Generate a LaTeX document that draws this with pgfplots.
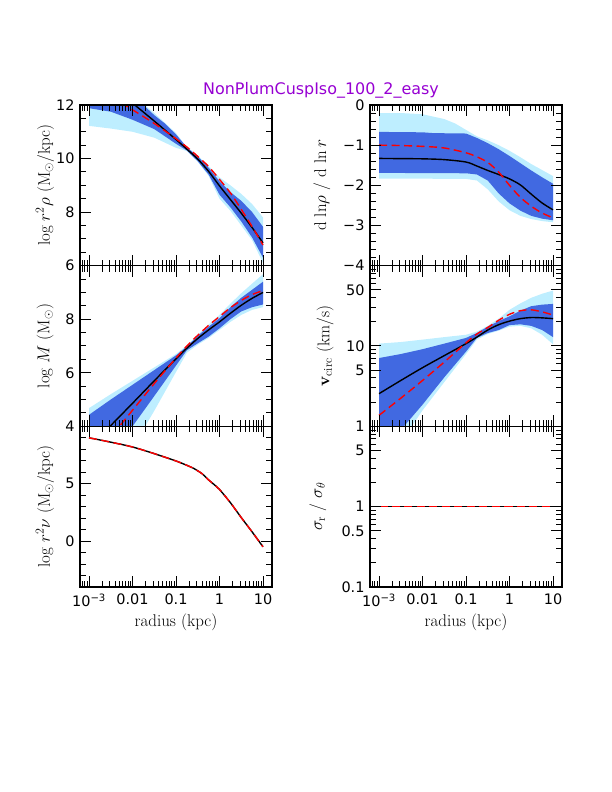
\documentclass[border=0pt]{standalone}
\usepackage{fontspec}
\usepackage{pgfplots}
\pgfplotsset{compat=1.18}
\newfontfamily\smfont{DejaVu Sans}
\definecolor{bandlight}{RGB}{190,238,255}
\definecolor{banddark}{RGB}{65,105,225}
\definecolor{titlepurple}{RGB}{150,0,210}
\newcommand\labfont{\fontsize{17}{19}\selectfont}

\pgfplotsset{
  every axis/.append style={
    scale only axis, width=192bp, height=160.67bp,
    xmode=log, xmin=6.2e-4, xmax=16.1,
    xtick={0.001,0.01,0.1,1,10},
    minor xtick={7e-4,8e-4,9e-4,0.002,0.003,0.004,0.005,0.006,0.007,0.008,0.009,
                 0.02,0.03,0.04,0.05,0.06,0.07,0.08,0.09,0.2,0.3,0.4,0.5,0.6,0.7,0.8,0.9,
                 2,3,4,5,6,7,8,9},
    xtick pos=both, ytick pos=both, xticklabel pos=lower, yticklabel pos=left,
    tick align=inside,
    major tick length=11bp, minor tick length=6bp,
    every tick/.append style={black, line width=1bp},
    axis line style={line width=1.3bp},
    axis on top,
    tick label style={font=\fontsize{14.5}{16}\selectfont\smfont},
    yticklabel style={xshift=-2bp},
    xticklabel style={yshift=-3bp},
    every axis y label/.style={at={(axis description cs:-0.182,0.5)}, rotate=90, anchor=center, font=\labfont},
    every axis x label/.style={at={(axis description cs:0.5,-0.218)}, anchor=center, font=\labfont},
  },
}
\tikzset{
  curveK/.style={black, line width=1.4bp, smooth, mark=none},
  curveR/.style={red, line width=1.4bp, dash pattern=on 8bp off 4.5bp, smooth, mark=none},
  bandL/.style={fill=bandlight, draw=none, mark=none},
  bandD/.style={fill=banddark, draw=none, mark=none},
}

\begin{document}
\begin{tikzpicture}
\path[use as bounding box] (0,0) rectangle (612bp,792bp);

\node[font=\fontsize{16}{18}\selectfont\smfont, text=titlepurple] at (321bp,702bp) {NonPlumCuspIso\_100\_2\_easy};

% ---------- top left: log r^2 rho
\begin{axis}[at={(80bp,526.33bp)}, xticklabels={},
  ymin=6, ymax=12, ytick={6,8,10,12}, yticklabels={6,8,10,12}, minor y tick num=3,
  ylabel={log $r^2\rho$ (M$_\odot$/kpc)}]
\addplot[bandL] coordinates {
  (0.001,12.6)(0.003162,12.6)(0.01,12.4)(0.03162,11.7)(0.1,10.95)(0.1778,10.42)(0.3162,10.12)
  (0.5623,9.72)(1,9.3)(1.778,9.0)(3.162,8.68)(5.623,8.3)(10,7.8)
  (10,6.1)(5.623,6.95)(3.162,7.5)(1.778,8.05)(1,8.5)(0.5623,9.35)(0.3162,9.88)(0.1778,10.28)
  (0.1,10.4)(0.03162,10.78)(0.01,11.0)(0.003162,11.12)(0.001,11.22)};
\addplot[bandD] coordinates {
  (0.001,12.6)(0.003162,12.6)(0.01,12.3)(0.01778,12.0)(0.03162,11.62)(0.05623,11.3)(0.1,10.9)
  (0.1778,10.42)(0.3162,10.08)(0.5623,9.66)(1,9.15)(1.778,8.75)(3.162,8.42)(5.623,8.0)(10,7.45)
  (10,6.3)(5.623,7.05)(3.162,7.65)(1.778,8.18)(1,8.65)(0.5623,9.4)(0.3162,9.9)(0.1778,10.3)
  (0.1,10.55)(0.03162,11.1)(0.01,11.45)(0.003162,11.75)(0.001,11.88)};
\addplot[curveK] coordinates {
  (0.001,13.4)(0.003162,12.75)(0.01,12.07)(0.03162,11.40)(0.1,10.71)(0.1778,10.35)(0.3162,9.98)
  (0.5623,9.52)(1,8.98)(1.778,8.47)(3.162,7.96)(5.623,7.42)(10,6.85)};
\addplot[curveR] coordinates {
  (0.001,12.82)(0.003162,12.32)(0.01,11.82)(0.03162,11.31)(0.1,10.74)(0.1778,10.43)(0.3162,10.08)
  (0.5623,9.7)(1,9.22)(1.778,8.72)(3.162,8.10)(5.623,7.46)(10,6.77)};
\end{axis}

% ---------- top right: dln rho / dln r
\begin{axis}[at={(370bp,526.33bp)}, xticklabels={},
  ymin=-4, ymax=0, ytick={-4,-3,-2,-1,0}, yticklabels={−4,−3,−2,−1,0}, minor y tick num=4,
  ylabel={d ln$\rho$ / d ln$\,r$},
  ylabel style={at={(axis description cs:-0.25,0.5)}}]
\addplot[bandL] coordinates {
  (0.001,-0.2)(0.003162,-0.2)(0.01,-0.23)(0.03162,-0.35)(0.05623,-0.46)(0.1,-0.62)(0.1778,-0.78)
  (0.3162,-0.88)(0.5623,-1.0)(1,-1.14)(1.778,-1.3)(3.162,-1.47)(5.623,-1.62)(10,-1.77)
  (10,-2.92)(5.623,-2.89)(3.162,-2.84)(1.778,-2.76)(1,-2.62)(0.5623,-2.4)(0.3162,-2.1)
  (0.1778,-1.88)(0.1,-1.84)(0.001,-1.83)};
\addplot[bandD] coordinates {
  (0.001,-0.67)(0.01,-0.68)(0.01778,-0.7)(0.1,-0.71)(0.1778,-0.82)(0.3162,-0.95)(0.5623,-1.1)
  (1,-1.27)(1.778,-1.45)(3.162,-1.63)(5.623,-1.8)(10,-1.96)
  (10,-2.87)(5.623,-2.83)(3.162,-2.76)(1.778,-2.63)(1,-2.45)(0.5623,-2.2)(0.3162,-1.88)
  (0.1778,-1.73)(0.1,-1.70)(0.001,-1.69)};
\addplot[curveK] coordinates {
  (0.001,-1.33)(0.003162,-1.335)(0.01,-1.34)(0.03162,-1.36)(0.1,-1.42)(0.1778,-1.52)(0.3162,-1.63)
  (0.5623,-1.73)(1,-1.84)(1.778,-1.99)(3.162,-2.22)(5.623,-2.44)(10,-2.61)};
\addplot[curveR] coordinates {
  (0.001,-1.0)(0.003162,-1.01)(0.01,-1.03)(0.03162,-1.07)(0.1,-1.19)(0.1778,-1.29)(0.3162,-1.43)
  (0.5623,-1.67)(1,-2.0)(1.778,-2.3)(3.162,-2.52)(5.623,-2.69)(10,-2.81)};
\end{axis}

% ---------- middle left: log M
\begin{axis}[at={(80bp,365.67bp)}, xticklabels={},
  ymin=4, ymax=10, ytick={4,6,8,10}, yticklabels={4,6,8,{}}, minor y tick num=3,
  ylabel={log $M$ (M$_\odot$)}]
\addplot[bandL] coordinates {
  (0.001,4.68)(0.003162,5.2)(0.01,5.7)(0.03162,6.2)(0.1,6.7)(0.1778,7.02)(0.3162,7.42)
  (0.5623,7.8)(1,8.16)(1.778,8.58)(3.162,8.97)(5.623,9.33)(10,9.68)
  (10,8.45)(5.623,8.35)(3.162,8.16)(1.778,7.9)(1,7.6)(0.5623,7.3)(0.3162,7.05)(0.1778,6.75)
  (0.1,6.03)(0.03162,4.58)(0.01,3.2)(0.001,0.5)};
\addplot[bandD] coordinates {
  (0.001,4.43)(0.003162,5.0)(0.01,5.55)(0.03162,6.1)(0.1,6.65)(0.1778,6.98)(0.3162,7.38)
  (0.5623,7.72)(1,8.04)(1.778,8.45)(3.162,8.8)(5.623,9.1)(10,9.4)
  (10,8.55)(5.623,8.45)(3.162,8.29)(1.778,8.0)(1,7.66)(0.5623,7.35)(0.3162,7.1)(0.1778,6.84)
  (0.1,6.27)(0.03162,5.13)(0.01,4.0)(0.003162,2.9)(0.001,1.8)};
\addplot[curveK] coordinates {
  (0.001,3.2)(0.003162,4.03)(0.01,4.86)(0.03162,5.7)(0.1,6.52)(0.1778,6.92)(0.3162,7.28)
  (0.5623,7.6)(1,7.9)(1.778,8.22)(3.162,8.52)(5.623,8.78)(10,9.0)};
\addplot[curveR] coordinates {
  (0.001,2.6)(0.003162,3.6)(0.01,4.6)(0.03162,5.6)(0.1,6.55)(0.1778,7.0)(0.3162,7.4)
  (0.5623,7.77)(1,8.1)(1.778,8.43)(3.162,8.7)(5.623,8.92)(10,9.07)};
\end{axis}

% ---------- middle right: v_circ
\begin{axis}[at={(370bp,365.67bp)}, xticklabels={},
  ymode=log, ymin=1, ymax=100, ytick={1,5,10,50,100}, yticklabels={1,5,10,50,{}},
  minor ytick={2,3,4,6,7,8,9,20,30,40,60,70,80,90},
  ylabel={\textbf{v}$_{\rm circ}$ (km/s)},
  ylabel style={at={(axis description cs:-0.234,0.5)}}]
\addplot[bandL] coordinates {
  (0.001,10.7)(0.003162,11.2)(0.01,12.0)(0.03162,12.9)(0.1,13.8)(0.1778,15.1)(0.3162,17.8)
  (0.5623,21.9)(1,28.2)(1.778,33.9)(3.162,39.8)(5.623,44.7)(10,49.0)
  (10,10.5)(5.623,13.8)(3.162,16.6)(1.778,17.8)(1,17.4)(0.5623,15.5)(0.3162,14.1)(0.1778,12.0)
  (0.1,7.94)(0.03162,3.55)(0.01,1.58)(0.001,0.25)};
\addplot[bandD] coordinates {
  (0.001,7.08)(0.003162,7.94)(0.01,9.12)(0.03162,10.7)(0.1,12.6)(0.1778,14.5)(0.3162,17.4)
  (0.5623,20.4)(1,23.4)(1.778,27.5)(3.162,31.3)(5.623,32.7)(10,33.4)
  (10,12.9)(5.623,15.8)(3.162,17.8)(1.778,18.6)(1,18.2)(0.5623,15.8)(0.3162,14.5)(0.1778,12.6)
  (0.1,8.51)(0.03162,4.07)(0.01,1.86)(0.003162,0.9)(0.001,0.4)};
\addplot[curveK] coordinates {
  (0.001,2.55)(0.003162,3.72)(0.01,5.37)(0.03162,7.59)(0.1,10.7)(0.1778,12.9)(0.3162,15.8)
  (0.5623,18.4)(1,20.4)(1.778,21.9)(3.162,22.6)(5.623,22.4)(10,21.9)};
\addplot[curveR] coordinates {
  (0.001,1.37)(0.003162,2.24)(0.01,3.72)(0.03162,6.31)(0.1,10.96)(0.1778,14.1)(0.3162,17.0)
  (0.5623,20.9)(1,24.8)(1.778,27.5)(3.162,28.2)(5.623,26.6)(10,24.3)};
\end{axis}

% ---------- bottom left: log r^2 nu
\begin{axis}[at={(80bp,205bp)},
  xticklabels={10\textsuperscript{−3},0.01,0.1,1,10}, xlabel={radius (kpc)},
  ymin=-4, ymax=10, ytick={0,5}, yticklabels={0,5},
  minor ytick={-3,-2,-1,1,2,3,4,6,7,8,9},
  ylabel={log $r^2\nu$ (M$_\odot$/kpc)}]
\addplot[curveK] coordinates {
  (0.001,9.0)(0.003162,8.62)(0.01,8.2)(0.03162,7.62)(0.1,6.98)(0.1778,6.6)(0.2512,6.35)
  (0.3162,6.12)(0.3981,5.87)(0.5623,5.33)(0.7943,4.85)(1,4.5)(1.778,3.35)(3.162,2.05)(5.623,0.8)(10,-0.5)};
\addplot[curveR] coordinates {
  (0.001,9.0)(0.003162,8.62)(0.01,8.2)(0.03162,7.62)(0.1,6.98)(0.1778,6.6)(0.2512,6.35)
  (0.3162,6.12)(0.3981,5.87)(0.5623,5.33)(0.7943,4.85)(1,4.5)(1.778,3.35)(3.162,2.05)(5.623,0.8)(10,-0.5)};
\end{axis}

% ---------- bottom right: sigma_r / sigma_theta
\begin{axis}[at={(370bp,205bp)},
  xticklabels={10\textsuperscript{−3},0.01,0.1,1,10}, xlabel={radius (kpc)},
  ymode=log, ymin=0.1, ymax=10, ytick={0.1,0.5,1,5,10}, yticklabels={0.1,0.5,1,5,{}},
  minor ytick={0.2,0.3,0.4,0.6,0.7,0.8,0.9,2,3,4,6,7,8,9},
  ylabel={$\sigma_{\rm r}$ / $\sigma_\theta$},
  ylabel style={at={(axis description cs:-0.271,0.5)}}]
\addplot[curveK] coordinates {(0.001,1)(0.01,1)(0.1,1)(1,1)(10,1)};
\addplot[curveR] coordinates {(0.001,1)(0.01,1)(0.1,1)(1,1)(10,1)};
\end{axis}
\end{tikzpicture}
\end{document}
